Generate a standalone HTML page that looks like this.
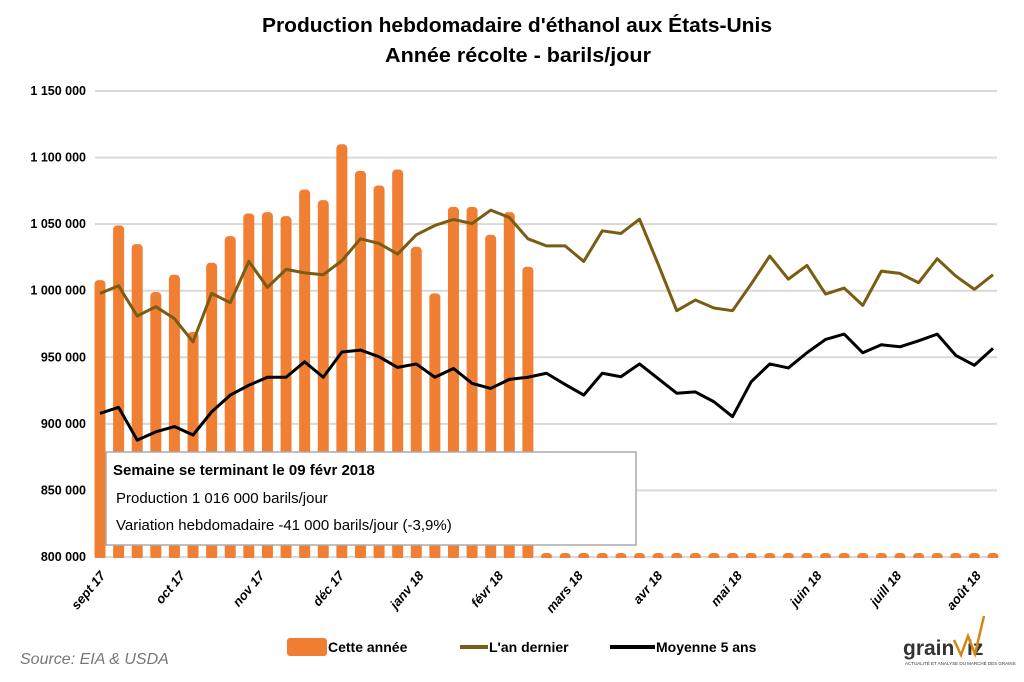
<!DOCTYPE html>
<html><head><meta charset="utf-8"><style>
body{margin:0;background:#fff;font-family:"Liberation Sans",sans-serif}
svg text{font-family:"Liberation Sans",sans-serif}
</style></head><body>
<svg id="c" width="1024" height="677">
<text x="517" y="32" text-anchor="middle" font-size="20" font-weight="bold" textLength="510" lengthAdjust="spacingAndGlyphs">Production hebdomadaire d'éthanol aux États-Unis</text>
<text x="518" y="62" text-anchor="middle" font-size="20" font-weight="bold" textLength="266" lengthAdjust="spacingAndGlyphs">Année récolte - barils/jour</text>
<g id="grid"></g><g id="bars"></g><g id="lines"></g><g id="xl"></g>
<g>
<rect x="106" y="452" width="530" height="93" fill="#fff" stroke="#aaa" stroke-width="1.5"/>
<text x="113" y="475" font-size="15" font-weight="bold">Semaine se terminant le 09 févr 2018</text>
<text x="116" y="503" font-size="15">Production 1 016 000 barils/jour</text>
<text x="116" y="530" font-size="15">Variation hebdomadaire -41 000 barils/jour (-3,9%)</text>
</g>
<g>
<rect x="287" y="638" width="40" height="18" rx="3" fill="#f07f33"/>
<text x="328" y="652" font-size="14" font-weight="bold">Cette année</text>
<line x1="460" y1="647" x2="488" y2="647" stroke="#7a5c12" stroke-width="4"/>
<text x="489" y="652" font-size="14" font-weight="bold">L'an dernier</text>
<line x1="610" y1="647" x2="655" y2="647" stroke="#000" stroke-width="4"/>
<text x="656" y="652" font-size="14" font-weight="bold">Moyenne 5 ans</text>
</g>
<text x="20" y="664" font-size="16" font-style="italic" fill="#777">Source: EIA &amp; USDA</text>
<g>
<text x="903" y="655" font-size="21" font-weight="bold" fill="#333">grain</text><text x="967" y="655" font-size="21" font-weight="bold" fill="#333">iz</text>
<polyline points="954,640 961,655 968,636 975,654 984,616" fill="none" stroke="#d4870f" stroke-width="2.5"/>
<text x="905" y="665" font-size="4.5" fill="#333">ACTUALITÉ ET ANALYSE DU MARCHÉ DES GRAINS</text>
</g>
</svg>
<script>
const yTicks=[800000,850000,900000,950000,1000000,1050000,1100000,1150000];
const yTickLabels=["800 000","850 000","900 000","950 000","1 000 000","1 050 000","1 100 000","1 150 000"];
const monthLabels=["sept 17","oct 17","nov 17","déc 17","janv 18","févr 18","mars 18","avr 18","mai 18","juin 18","juill 18","août 18"];
const thisYear=[1008000,1049000,1035000,999000,1012000,969000,1021000,1041000,1058000,1059000,1056000,1076000,1068000,1110000,1090000,1079000,1091000,1033000,998000,1063000,1063000,1042000,1059000,1018000];
const lastYear=[998000,1003700,981000,988000,979000,961600,998000,991000,1022000,1002500,1016000,1013400,1012000,1022500,1039000,1035500,1027500,1042000,1049000,1053500,1050500,1060500,1055000,1039000,1033700,1033700,1022000,1045000,1043000,1053700,1020000,985000,993000,987000,985000,1005000,1026000,1008700,1019000,997500,1002000,989000,1014700,1013000,1006000,1024000,1011000,1001000,1012000];
const avg5=[907800,912400,887800,894000,898000,891600,909000,921600,929000,935000,935000,946600,935000,954000,955400,950400,942400,945000,935000,941600,930400,926600,933400,935000,938000,929600,921600,938000,935400,945000,934000,923000,924000,916600,905400,931600,945000,942000,953400,963400,967400,953400,959400,957900,962400,967400,951400,944000,956700];
const NW=49;
const ns="http://www.w3.org/2000/svg";
const X=i=>100+i*(893/48);
const Y=v=>557-(v-800000)/350000*466;
function mk(t,a,p){const e=document.createElementNS(ns,t);for(const k in a)e.setAttribute(k,a[k]);p.appendChild(e);return e;}
const grid=document.getElementById('grid');
yTicks.forEach((v,i)=>{
 const l=mk('line',{x1:95,x2:997,y1:Y(v),y2:Y(v),stroke:'#d9d9d9','stroke-width':2},grid);
 
 
 const t=mk('text',{x:86,y:Y(v)+4,'text-anchor':'end','font-size':12.5,'font-weight':'bold'},grid);
 t.textContent=yTickLabels[i];
 
 
});
const bars=document.getElementById('bars');
for(let i=0;i<NW;i++){
 const v=i<thisYear.length?thisYear[i]:800000;
 const top=Math.min(Y(v),553);
 const b=mk('rect',{x:X(i)-5.5,y:top,width:11,height:557-top+3,rx:4,fill:'#f07f33'},bars);
 
 
}
mk('rect',{x:90,y:558,width:920,height:6,fill:'#fff'},bars);
const lines=document.getElementById('lines');
const p1=mk('polyline',{points:lastYear.map((v,i)=>X(i)+','+Y(v)).join(' '),fill:'none',stroke:'#7a5c12','stroke-width':3,'stroke-linejoin':'round'},lines);


const p2=mk('polyline',{points:avg5.map((v,i)=>X(i)+','+Y(v)).join(' '),fill:'none',stroke:'#000','stroke-width':3,'stroke-linejoin':'round'},lines);


const xl=document.getElementById('xl');
monthLabels.forEach((m,i)=>{
 const x=106+i*79.6,y=576;
 const t=mk('text',{x:x,y:y,'text-anchor':'end','font-size':13,'font-weight':'bold','font-style':'italic',transform:`rotate(-50 ${x} ${y})`},xl);
 t.textContent=m;
 
 
});
</script>
</body></html>
